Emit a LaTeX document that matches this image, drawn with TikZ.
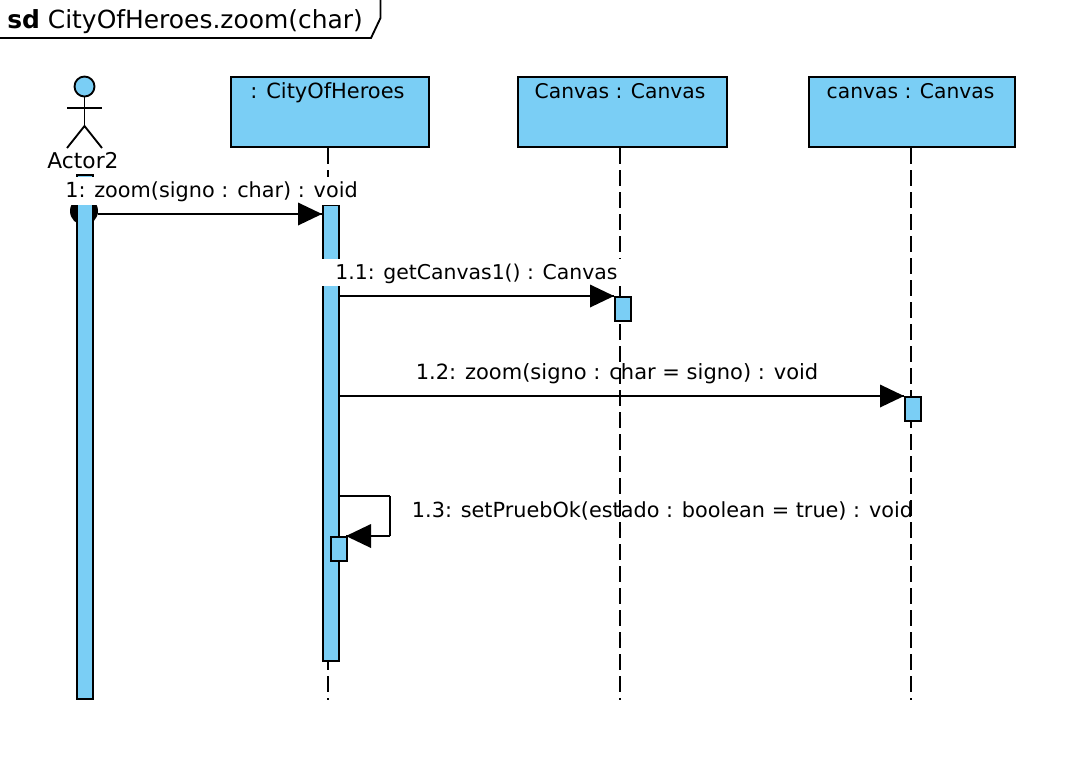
\documentclass[tikz,border=0pt]{standalone}
\usepackage{fontspec}
\usepackage{tikz}
\setmainfont{DejaVu Sans}
\definecolor{lifeblue}{RGB}{122,206,245}
\tikzset{
  lifehead/.style={draw=black,fill=lifeblue,line width=1.6pt,minimum height=52.6pt,inner sep=0pt},
  headtext/.style={inner sep=0pt,font=\fontsize{15.2}{18}\selectfont},
  msgtext/.style={inner sep=0pt,font=\fontsize{15.6}{18}\selectfont},
  lifeline/.style={line width=1.5pt,dash pattern=on 12pt off 4.5pt},
  actbox/.style={draw=black,fill=lifeblue,line width=1.5pt,minimum width=12pt,inner sep=0pt},
  msgline/.style={line width=1.5pt},
  whiteback/.style={fill=white,inner sep=0pt},
}
\begin{document}
\begin{tikzpicture}[x=0.75pt,y=-0.75pt]
\useasboundingbox (0,0) rectangle (1070,758);
\fill[white] (0,0) rectangle (1070,758);
% frame
\coordinate (fa) at (0,38);
\coordinate (fb) at (371,38);
\coordinate (fc) at (380.5,18);
\coordinate (fd) at (380.5,0);
\draw[line width=1.4pt] (fa) -- (fb) -- (fc) -- (fd);
\node[inner sep=0pt,anchor=base west,font=\fontsize{18.7}{20}\selectfont](title) at (7,28) {\textbf{sd} CityOfHeroes.zoom(char)};
% actor
\node[circle,draw,fill=lifeblue,line width=1.4pt,minimum size=15pt,inner sep=0pt](head) at (84.5,86.5) {};
\coordinate (hip) at (84.5,126);
\coordinate (footl) at (67,148);
\coordinate (footr) at (102,148);
\coordinate (arml) at (67,108);
\coordinate (armr) at (102,108);
\draw[line width=1.4pt] (head) -- (hip);
\draw[line width=1.4pt] (arml) -- (armr);
\draw[line width=1.4pt] (footl) -- (hip) -- (footr);
\node[inner sep=0pt,anchor=base,font=\fontsize{16.3}{18}\selectfont](actor) at (83,168) {Actor2};
% lifeline heads
\node[lifehead,anchor=north west,minimum width=149pt](city) at (229.5,76) {};
\node[lifehead,anchor=north west,minimum width=157pt](cnv) at (516.5,76) {};
\node[lifehead,anchor=north west,minimum width=155pt](can) at (807.5,76) {};
\node[headtext,anchor=base,font=\fontsize{15.7}{18}\selectfont](citylab) at (327.5,98) {: CityOfHeroes};
\node[headtext,anchor=base](cnvlab) at (620,98) {Canvas : Canvas};
\node[headtext,anchor=base](canlab) at (910.5,98) {canvas : Canvas};
% lifelines
\coordinate (cityend) at (328,700);
\coordinate (cnvend) at (620,700);
\coordinate (canend) at (910.5,700);
\draw[lifeline] (city.south -| cityend) -- (cityend);
\draw[lifeline] (cnv.south -| cnvend) -- (cnvend);
\draw[lifeline] (can.south -| canend) -- (canend);
% found ball and bars
\node[circle,fill=black,minimum size=21pt,inner sep=0pt](ball) at (84,211) {};
\node[actbox,anchor=north,minimum height=393pt](actbar) at (84.5,173.5) {};
\node[actbox,anchor=north,minimum height=342pt](citybar) at (330.5,203.5) {};
\node[actbox,anchor=north,minimum height=18pt](cnvbar) at (622.5,296) {};
\node[actbox,anchor=north,minimum height=18pt](canbar) at (912.5,396) {};
\node[actbox,anchor=north,minimum height=18pt](selfbar) at (338.5,536) {};
% labels
\node[whiteback,minimum width=231pt,minimum height=21pt](mback) at (204,191) {};
\node[whiteback,minimum width=225pt,minimum height=20pt](nback) at (472,272.5) {};
\node[msgtext,anchor=base](ma) at (211.5,197) {1: zoom(signo : char) : void};
\node[msgtext,anchor=base,font=\fontsize{15.3}{18}\selectfont](mb) at (476.5,279) {1.1: getCanvas1() : Canvas};
\node[msgtext,anchor=base,font=\fontsize{15.75}{18}\selectfont](mc) at (617,379) {1.2: zoom(signo : char = signo) : void};
\node[msgtext,anchor=base](md) at (662.5,517) {1.3: setPruebOk(estado : boolean = true) : void};
% messages
\coordinate (sa) at (98,214);
\coordinate (sb) at (339,296);
\coordinate (sc) at (339,396);
\coordinate (sd) at (339,496);
\coordinate (ca) at (390,496);
\coordinate (cb) at (390,536);
\coordinate (ea) at (322,214);
\coordinate (eb) at (614,296);
\coordinate (ec) at (904,396);
\coordinate (ed) at (346,536);
\draw[msgline] (sa) -- (ea);
\draw[msgline] (sb) -- (eb);
\draw[msgline] (sc) -- (ec);
\draw[msgline] (sd) -- (ca);
\draw[line width=0.9pt] (ca) -- (cb);
\draw[msgline] (cb) -- (ed);
\fill (ea) -- ++(-24,-11.5) -- ++(0,23) -- cycle;
\fill (eb) -- ++(-24,-11.5) -- ++(0,23) -- cycle;
\fill (ec) -- ++(-24,-11.5) -- ++(0,23) -- cycle;
\fill (ed) -- ++(25,-12) -- ++(0,24) -- cycle;
\end{tikzpicture}
\end{document}
